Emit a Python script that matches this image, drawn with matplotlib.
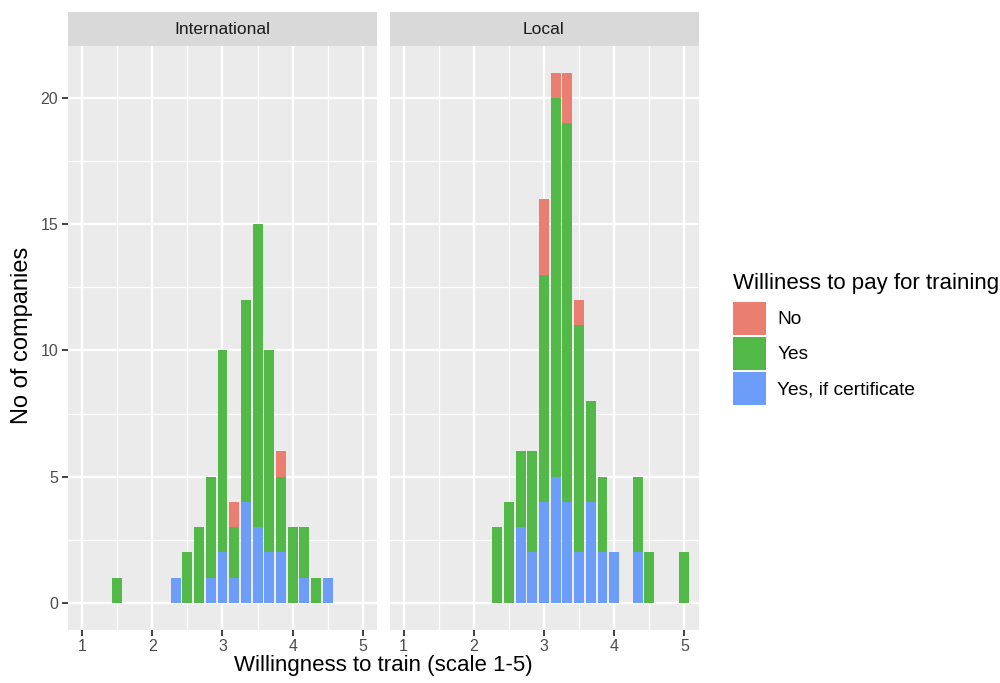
import matplotlib
matplotlib.use('Agg')
import matplotlib.pyplot as plt
from matplotlib.patches import Patch
import numpy as np

plt.rcParams['font.family'] = ['Liberation Sans', 'DejaVu Sans']

# bin centres (binwidth 1/6)
bin_centers = [1.5, 1.667, 1.833, 2.0, 2.167, 2.333, 2.5, 2.667, 2.833, 3.0, 3.167,
               3.333, 3.5, 3.667, 3.833, 4.0, 4.167, 4.333, 4.5, 4.667, 4.833, 5.0]
binwidth = 1 / 6

panels = ["International", "Local"]
groups = ["No", "Yes", "Yes, if certificate"]
colors = {"No": "#EA7E70", "Yes": "#52B848", "Yes, if certificate": "#6C9DF8"}

intl_no =   [0, 0, 0, 0, 0, 0, 0, 0, 0, 0, 1, 0, 0, 0, 1, 0, 0, 0, 0, 0, 0, 0]
intl_yes =  [1, 0, 0, 0, 0, 0, 2, 3, 4, 8, 2, 8, 12, 8, 3, 3, 2, 1, 0, 0, 0, 0]
intl_cert = [0, 0, 0, 0, 0, 1, 0, 0, 1, 2, 1, 4, 3, 2, 2, 0, 1, 0, 1, 0, 0, 0]

local_no =   [0, 0, 0, 0, 0, 0, 0, 0, 0, 3, 1, 2, 1, 0, 0, 0, 0, 0, 0, 0, 0, 0]
local_yes =  [0, 0, 0, 0, 0, 3, 4, 3, 4, 9, 15, 15, 9, 4, 3, 0, 0, 3, 2, 0, 0, 2]
local_cert = [0, 0, 0, 0, 0, 0, 0, 3, 2, 4, 5, 4, 2, 4, 2, 2, 0, 2, 0, 0, 0, 0]

counts = {
    "International": {"No": intl_no, "Yes": intl_yes, "Yes, if certificate": intl_cert},
    "Local": {"No": local_no, "Yes": local_yes, "Yes, if certificate": local_cert},
}

fig = plt.figure(figsize=(10, 6.83), dpi=100)

H = 683.0
pan_top, pan_bot = 46, 629.5
lefts = [68, 389.5]
pw = 309

tick_col = "#4D4D4D"
for i, name in enumerate(panels):
    ax = fig.add_axes([lefts[i] / 1000, (H - pan_bot) / H, pw / 1000, (pan_bot - pan_top) / H])
    ax.set_facecolor("#EBEBEB")
    bottom = np.zeros(len(bin_centers))
    for g in ["Yes, if certificate", "Yes", "No"]:
        vals = np.array(counts[name][g], dtype=float)
        ax.bar(bin_centers, vals, width=binwidth * 0.85, bottom=bottom,
               color=colors[g], linewidth=0, zorder=3)
        bottom += vals
    ax.set_xlim(0.8, 5.2)
    ax.set_ylim(-1.05, 22.05)
    ax.set_xticks([1, 2, 3, 4, 5])
    ax.set_xticks([1.5, 2.5, 3.5, 4.5], minor=True)
    ax.set_yticks([0, 5, 10, 15, 20])
    ax.set_yticks([2.5, 7.5, 12.5, 17.5], minor=True)
    ax.grid(which="major", color="white", linewidth=1.7, zorder=0)
    ax.grid(which="minor", color="white", linewidth=0.9, zorder=0)
    ax.set_axisbelow(True)
    for s in ax.spines.values():
        s.set_visible(False)
    ax.tick_params(which="major", length=4, width=1.3, color="#333333",
                   labelcolor=tick_col, labelsize=11.5, pad=3)
    ax.tick_params(which="minor", length=0)
    if i > 0:
        ax.tick_params(axis="y", left=False, labelleft=False)

    # facet strip
    sax = fig.add_axes([lefts[i] / 1000, (H - pan_top) / H, pw / 1000, 34 / H])
    sax.set_facecolor("#D9D9D9")
    sax.set_xticks([])
    sax.set_yticks([])
    for s in sax.spines.values():
        s.set_visible(False)
    sax.text(0.5, 0.5, name, ha="center", va="center", fontsize=12.5,
             color="#1A1A1A", transform=sax.transAxes)

fig.text(383 / 1000, 1 - 665 / H, "Willingness to train (scale 1-5)",
         ha="center", va="center", fontsize=16)
fig.text(22 / 1000, 1 - 335 / H, "No of companies", rotation=90,
         ha="center", va="center", fontsize=17)

handles = [Patch(facecolor=colors[g], edgecolor="none") for g in groups]
leg = fig.legend(handles, groups, loc="upper left",
                 bbox_to_anchor=(725 / 1000, 1 - 265 / H),
                 frameon=False, fontsize=13.8, title="Williness to pay for training",
                 title_fontsize=16, handlelength=1.72, handleheight=2.27,
                 labelspacing=0.1, handletextpad=0.6, borderaxespad=0)
leg._legend_box.align = "left"
leg._legend_box.sep = 6

fig.savefig("out.png", dpi=100)
